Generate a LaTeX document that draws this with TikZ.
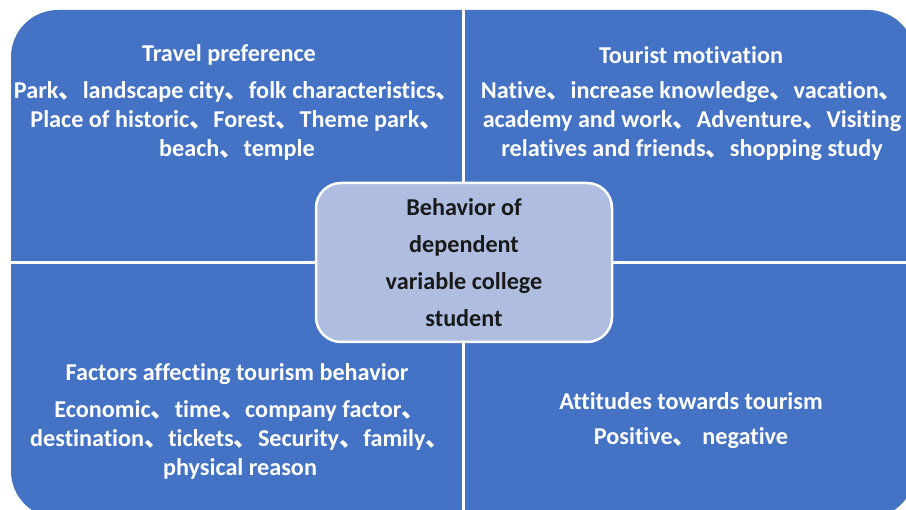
\documentclass[tikz,border=0pt]{standalone}
\usepackage{fontspec}
\setmainfont{Carlito}[Ligatures=NoCommon]
\newfontfamily\cjk{Noto Sans CJK SC}
\newcommand\dun{{\cjk 、}}
\definecolor{quadblue}{HTML}{4472C4}
\definecolor{corefill}{HTML}{AEBDE0}
\tikzset{
	panel/.style={fill=quadblue,rounded corners=47pt},
	divider/.style={draw=white,line width=3pt},
	heading/.style={text=white,font=\bfseries\fontsize{24.2}{29}\selectfont},
	items/.style={text=white,align=center,font=\bfseries\fontsize{24.2}{29}\selectfont},
	core/.style={fill=corefill,draw=white,line width=2.5pt,rounded corners=25pt,
		minimum width=296pt,minimum height=159pt,align=center,text=black!90,
		font=\bfseries\fontsize{24.2}{37}\selectfont}
}

\begin{document}
\begin{tikzpicture}[x=1pt,y=-1pt]
	%%%%% START %%%%%
	\useasboundingbox (0,0) rectangle (906,510);
	\clip (0,0) rectangle (906,510);
	
	\fill[panel] (11,10) rectangle (915,518);
	\draw[divider] (463.5,0) -- (463.5,520);
	\draw[divider] (0,262.5) -- (920,262.5);
	
	\node[heading] (prefT) at (229,55) {Travel preference};
	\node[items] (prefL) at (237,121) {Park\dun landscape city\dun folk characteristics\dun\\
		Place of historic\dun Forest\dun Theme park\dun\\ beach\dun temple};
	
	\node[heading] (motT) at (691,55) {Tourist motivation};
	\node[items] (motL) at (692,121) {Native\dun increase knowledge\dun vacation\dun\\
		academy and work\dun Adventure\dun Visiting\\ relatives and friends\dun shopping study};
	
	\node[heading] (facT) at (237,374) {Factors affecting tourism behavior};
	\node[items] (facL) at (240,440) {Economic\dun time\dun company factor\dun\\
		destination\dun tickets\dun Security\dun family\dun\\ physical reason};
	
	\node[heading] (attT) at (691,401) {Attitudes towards tourism};
	\node[items] (attL) at (691,438) {Positive\dun\ negative};
	
	\node[core] (student) at (464,262.5) {Behavior of\\ dependent\\ variable college\\ student};
	%%%%% END %%%%%
\end{tikzpicture}
\end{document}
